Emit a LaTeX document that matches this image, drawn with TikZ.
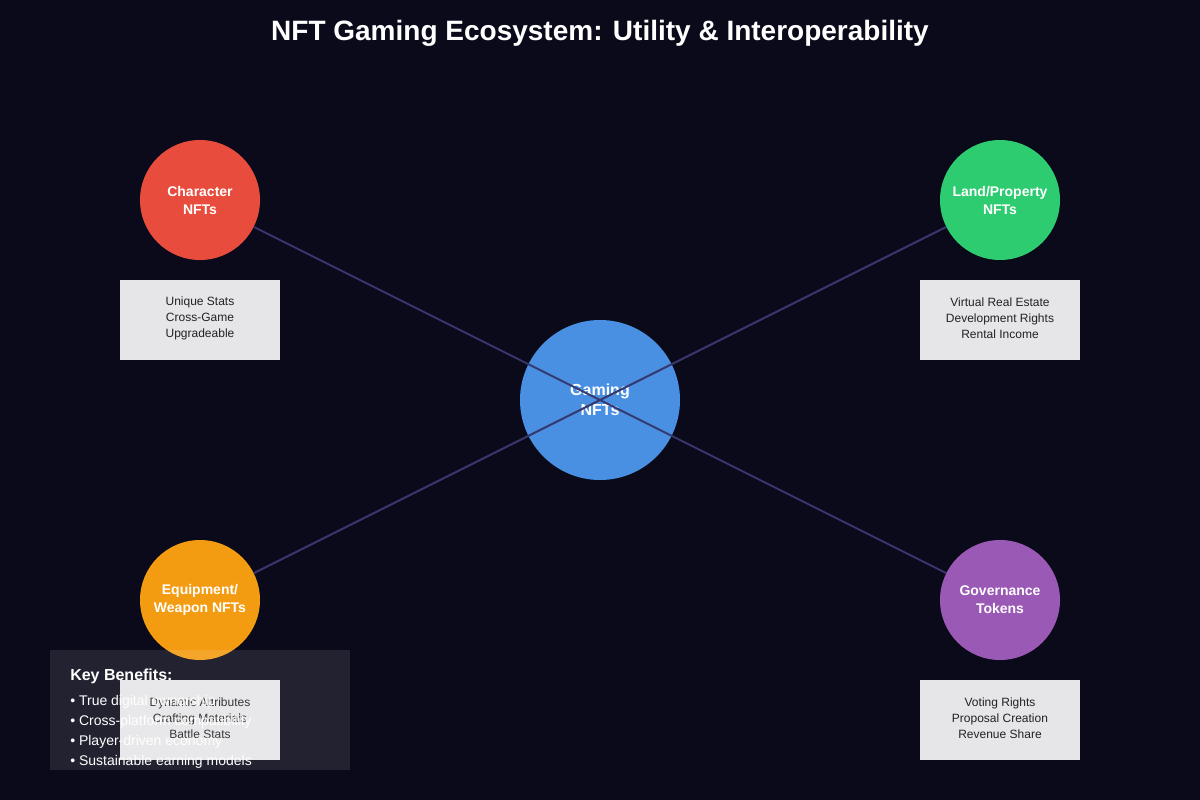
\documentclass[tikz,border=0pt]{standalone}
\usepackage{fontspec}
\setmainfont{Liberation Sans}
\definecolor{bgc}{HTML}{0A0A1A}
\definecolor{linec}{HTML}{37376E}
\definecolor{cred}{HTML}{E74C3C}
\definecolor{cgreen}{HTML}{2ECC71}
\definecolor{corange}{HTML}{F39C12}
\definecolor{cpurple}{HTML}{9B59B6}
\definecolor{cblue}{HTML}{4A90E2}
\definecolor{boxc}{HTML}{E6E6E8}
\definecolor{txtc}{HTML}{222222}
\tikzset{
  px/.style={x=0.75pt,y=-0.75pt},
  outer/.style={circle,minimum size=90pt,inner sep=0pt,text=white,font=\bfseries\fontsize{10.5}{13.5}\selectfont,align=center},
  hubst/.style={circle,minimum size=120pt,inner sep=0pt,text=white,font=\bfseries\fontsize{12}{15}\selectfont,align=center,fill=cblue},
  infobox/.style={rectangle,minimum width=120pt,minimum height=60pt,inner sep=0pt,fill=boxc},
  infotext/.style={text=txtc,font=\fontsize{9}{12}\selectfont,align=center,inner sep=0pt},
  conn/.style={draw=linec,line width=1.5pt},
}
\begin{document}
\begin{tikzpicture}[px]
\fill[bgc] (0,0) rectangle (1200,800);
\useasboundingbox (0,0) rectangle (1200,800);
\node[text=white,font=\bfseries\fontsize{21}{25}\selectfont] (title) at (600,33) {NFT Gaming Ecosystem: Utility \& Interoperability};
\node[hubst] (hub) at (600,400) {Gaming\\NFTs};
\node[outer,fill=cred] (char) at (200,200) {\raisebox{1pt}{}Character\\NFTs};
\node[outer,fill=cgreen] (land) at (1000,200) {Land/Property\\NFTs};
\node[outer,fill=corange] (equip) at (200,600) {Equipment/\\Weapon NFTs};
\node[outer,fill=cpurple] (gov) at (1000,600) {Governance\\Tokens};
\draw[conn] (char) -- (hub.center);
\draw[conn] (land) -- (hub.center);
\draw[conn] (equip) -- (hub.center);
\draw[conn] (gov) -- (hub.center);
\node[infobox] (charbox) at (200,320) {};
\node[infobox] (landbox) at (1000,320) {};
\node[infobox] (equipbox) at (200,720) {};
\node[infobox] (govbox) at (1000,720) {};
\node[infotext] (chart) at (200,318) {Unique Stats\\Cross-Game\\Upgradeable};
\node[infotext] (landt) at (1000,318) {Virtual Real Estate\\Development Rights\\Rental Income};
\node[infotext] (equipt) at (200,718) {Dynamic Attributes\\Crafting Materials\\Battle Stats};
\node[infotext] (govt) at (1000,718) {Voting Rights\\Proposal Creation\\Revenue Share};
\fill[white,fill opacity=0.1] (50,650) rectangle (350,770);
\node[anchor=west,text=white,font=\bfseries\fontsize{12}{14}\selectfont,inner sep=0pt] (kbt) at (70,676) {Key Benefits:};
\node[anchor=north west,text=white,font=\fontsize{10.5}{15}\selectfont,inner sep=0pt,align=left] (kbl) at (70,695) {\textbullet\ True digital ownership\\\textbullet\ Cross-platform compatibility\\\textbullet\ Player-driven economy\\\textbullet\ Sustainable earning models};
\end{tikzpicture}
\end{document}
